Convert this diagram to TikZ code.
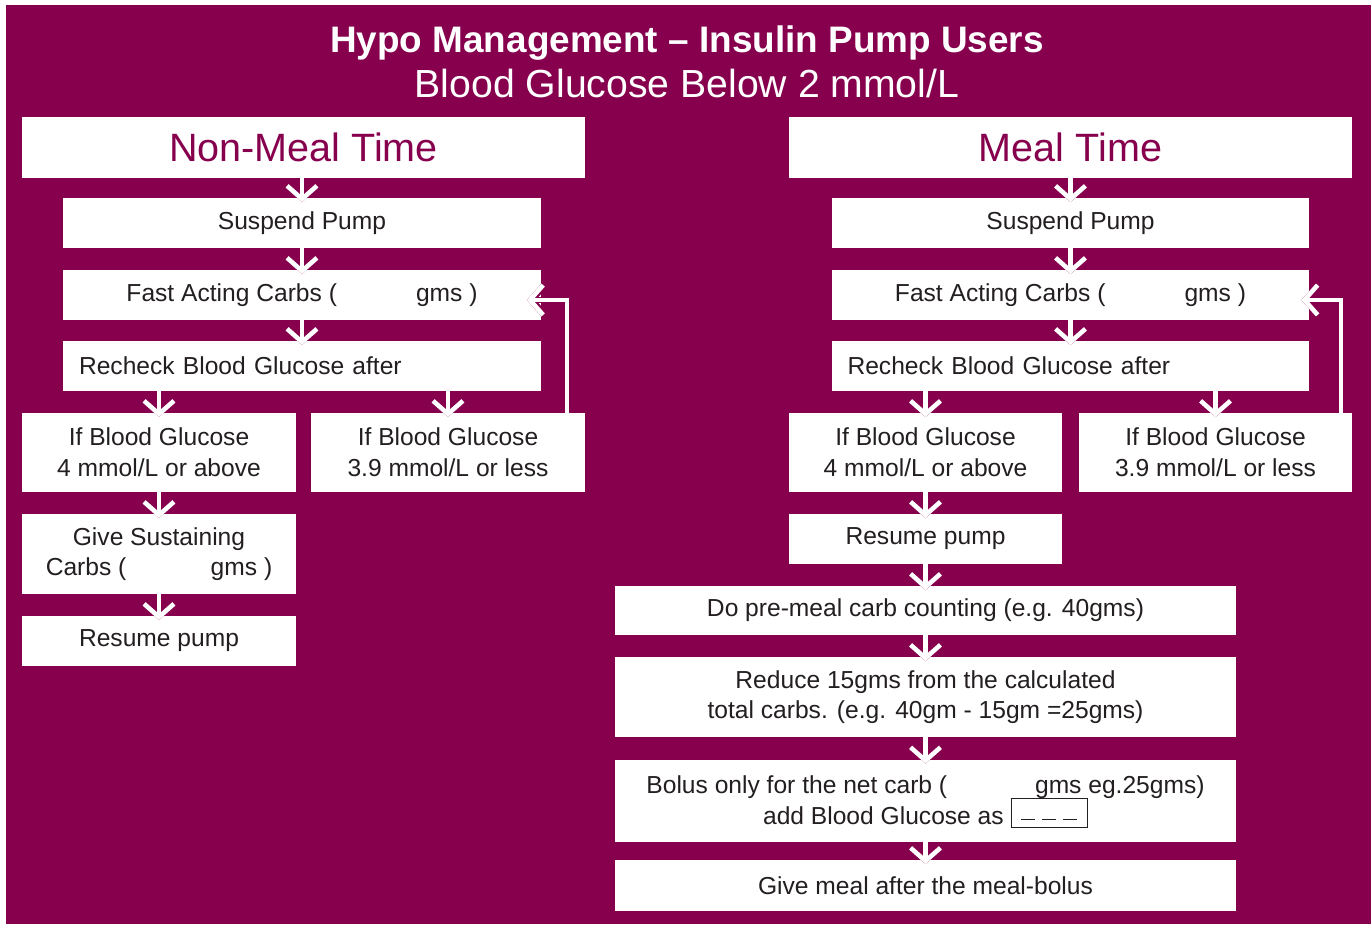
\documentclass[tikz,border=0pt]{standalone}
\usepackage{fontspec}
\setmainfont{Liberation Sans}
\usepackage{tikz}
\usetikzlibrary{arrows.meta,calc}
\definecolor{hypo}{RGB}{134,0,78}
\definecolor{ink}{RGB}{35,31,32}
\newcommand{\dashblank}{\smash{{\setlength{\fboxsep}{1.5pt}\setlength{\fboxrule}{0.5pt}%
    \framebox[44pt]{\rule{0pt}{13.3pt}\raisebox{2.5pt}{\rule{8pt}{0.6pt}\hspace{4pt}\rule{8pt}{0.6pt}\hspace{4pt}\rule{8pt}{0.6pt}}}}}}

\begin{document}
\begin{tikzpicture}[x=0.02cm, y=-0.02cm,
    stepbox/.style={fill=white, text=ink, inner sep=0pt, align=center, font=\fontsize{14}{17.5}\selectfont},
    headbox/.style={fill=white, text=hypo, inner sep=0pt, minimum width=11.26cm, minimum height=1.22cm, font=\fontsize{22.5}{26}\selectfont},
    flow/.style={white, line width=2.4pt, shorten >=-2.5pt, -{Straight Barb[length=7.5pt,width=17pt,line width=2.6pt]},
        preaction={draw=hypo, line width=3.6pt, -{Straight Barb[length=7.5pt,width=17pt,line width=3.8pt]}}}]

    % Frame and background
    \useasboundingbox (0,0) rectangle (1371,924);
    \fill[hypo] (6,5) rectangle (1371,924);

    % Titles
    \node[white, anchor=base, font=\bfseries\fontsize{21}{24}\selectfont] (title) at (687,52) {Hypo Management – Insulin Pump Users};
    \node[white, anchor=base, font=\fontsize{22.3}{26}\selectfont] (subtitle) at (687,97) {Blood Glucose Below 2 mmol/L};

    % Column headings
    \node[headbox] (headL) at (303.5,147.5) {Non-Meal Time};
    \node[headbox] (headR) at (1070.5,147.5) {Meal Time};

    % Non-meal time steps
    \node[stepbox, minimum width=9.56cm, minimum height=1cm] (suspL) at (302,223) {Suspend Pump};
    \node[stepbox, minimum width=9.56cm, minimum height=1cm] (fastL) at (302,295) {Fast Acting Carbs (\hspace{45pt}gms )};
    \node[stepbox, minimum width=9.56cm, minimum height=1cm, align=left, text width=8.92cm, inner xsep=0.32cm] (recheckL) at (302,366) {Recheck Blood Glucose after};
    \node[stepbox, minimum width=5.48cm, minimum height=1.58cm] (aboveL) at (159,452.5) {If Blood Glucose\\4 mmol/L or above};
    \node[stepbox, minimum width=5.48cm, minimum height=1.58cm] (lessL) at (448,452.5) {If Blood Glucose\\3.9 mmol/L or less};
    \node[stepbox, minimum width=5.48cm, minimum height=1.6cm] (sustainL) at (159,554) {Give Sustaining\\Carbs (\hspace{48pt}gms )};
    \node[stepbox, minimum width=5.48cm, minimum height=1cm] (resumeL) at (159,641) {Resume pump};

    % Meal time steps
    \node[stepbox, minimum width=9.56cm, minimum height=1cm] (suspR) at (1070.5,223) {Suspend Pump};
    \node[stepbox, minimum width=9.56cm, minimum height=1cm] (fastR) at (1070.5,295) {Fast Acting Carbs (\hspace{45pt}gms )};
    \node[stepbox, minimum width=9.56cm, minimum height=1cm, align=left, text width=8.92cm, inner xsep=0.32cm] (recheckR) at (1070.5,366) {Recheck Blood Glucose after};
    \node[stepbox, minimum width=5.48cm, minimum height=1.58cm] (aboveR) at (925.5,452.5) {If Blood Glucose\\4 mmol/L or above};
    \node[stepbox, minimum width=5.48cm, minimum height=1.58cm] (lessR) at (1215.5,452.5) {If Blood Glucose\\3.9 mmol/L or less};
    \node[stepbox, minimum width=5.48cm, minimum height=1cm] (resumeR) at (925.5,539) {Resume pump};
    \node[stepbox, minimum width=12.42cm, minimum height=0.98cm] (countR) at (925.5,610.5) {Do pre-meal carb counting (e.g. 40gms)};
    \node[stepbox, minimum width=12.42cm, minimum height=1.6cm] (reduceR) at (925.5,697) {Reduce 15gms from the calculated\\total carbs. (e.g. 40gm - 15gm =25gms)};
    \node[stepbox, minimum width=12.42cm, minimum height=1.64cm] (bolusR) at (925.5,800.5) {Bolus only for the net carb (\hspace{50pt}gms eg.25gms)\\add Blood Glucose as \dashblank};
    \node[stepbox, minimum width=12.42cm, minimum height=1.02cm] (mealR) at (925.5,885.5) {Give meal after the meal-bolus};

    % Downward flow
    \foreach \a/\b in {headL/suspL, suspL/fastL, fastL/recheckL, recheckL/aboveL, recheckL/lessL,
        aboveL/sustainL, sustainL/resumeL, headR/suspR, suspR/fastR, fastR/recheckR,
        recheckR/aboveR, recheckR/lessR, aboveR/resumeR, resumeR/countR, countR/reduceR,
        reduceR/bolusR, bolusR/mealR}
        \draw[flow] (\b.north |- \a.south) -- (\b.north);

    % Loop back to fast acting carbs
    \foreach \s/\dx/\tx in {L/-18/-10, R/-12/-4}
        \draw[flow] ($(less\s.north east)+(\dx,0)$) |- ($(fast\s.east)+(\tx,5)$);
\end{tikzpicture}
\end{document}
